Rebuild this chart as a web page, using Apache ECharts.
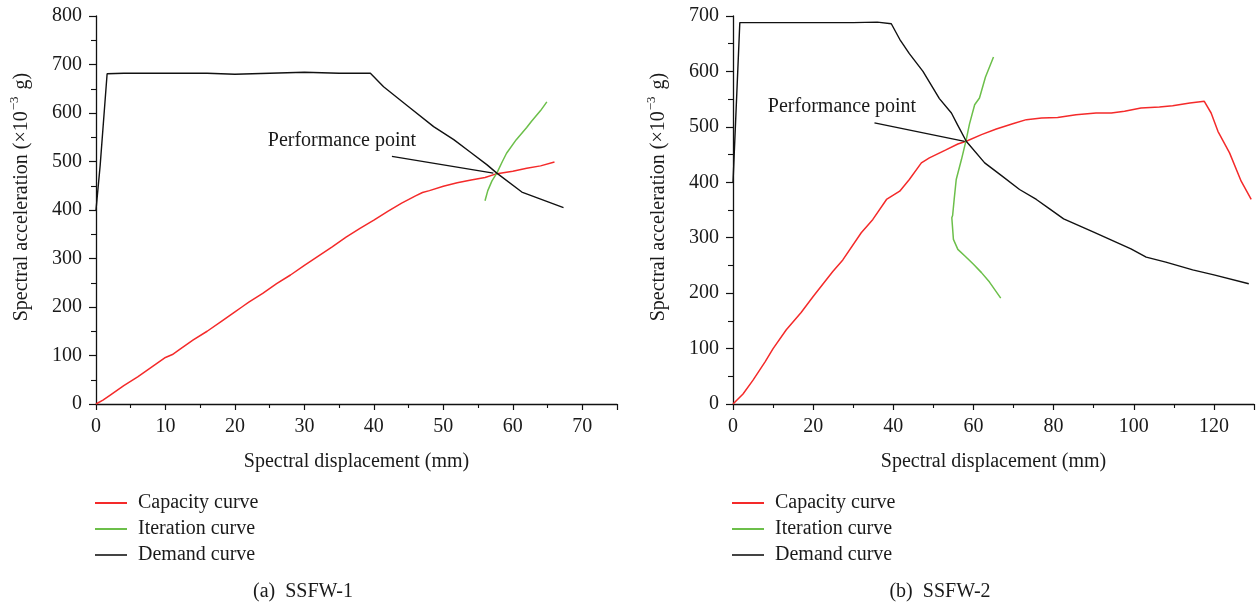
<!DOCTYPE html>
<html>
<head>
<meta charset="utf-8">
<script src="https://cdn.jsdelivr.net/npm/echarts@6/dist/echarts.min.js"></script>
<style>
html,body{margin:0;padding:0;background:#fff;}
#c{width:1257px;height:603px;}
</style>
</head>
<body>
<div id="c"></div>
<script>
// ---------- (a) SSFW-1 ----------
const capX1 = [0,1,2,4,6,8,10,11,12,14,16,18,20,21,22,24,26,28,30,32,34,36,38,40,42,44,46,47,48,50,52,54,56,57.5,60,62,64,66];
const capY1 = [0,8,18,38,56,76,96,102,112,132,150,170,190,200,210,228,248,266,286,305,324,344,362,379,397,414,429,436,440,449,456,462,467,474,480,486,491,499];
const itX1 = [56,56.4,57,57.7,58.5,59.1,60.5,62,62.7,64,64.9];
const itY1 = [419,440,460,476,500,517,545,570,583,605,623];
const demX1 = [0,0.6,1.6,4,10,16,20,25,30,35,39.5,41.4,45,48.6,51.5,54,56.3,57.7,61.3,67.3];
const demY1 = [400,492,681,682,682,682,680,682,684,682,682,654,613,572,545,518,493,476,437,405];
const ppText1 = [35.4,543];
const ppArrow1 = [[42.6,510.5],[57.2,476]];

// ---------- (b) SSFW-2 ----------
const capX2 = [0,2.5,5,8,10,13.3,17,20,24.9,27.4,32,34.9,38.3,41.6,44,47,49,53,56.1,58.2,62,65.7,70,73.2,77,81,85.6,90.6,94.4,97.7,101.8,106.4,109.7,114,117.6,119.3,121,123.9,126.8,129.3];
const capY2 = [0,18,43,76,100,134,165,194,239,260,309,333,369,384,405,435,444,458,469,474,486,496,506,513,516,517,522,525,525,528,534,536,538,543,546,525,492,453,402,369];
const itX2 = [65,63,61.5,60.3,59,58.2,57,55.7,55.2,54.8,54.6,55,56.1,58,60,62,64,66.8];
const itY2 = [626,590,552,540,505,477,441,405,370,340,336,297,279,266,252,237,220,191];
const demX2 = [0,1.7,10,20,30,36,39.5,41.6,44,47.4,51.5,54.5,56,58.2,62.8,67,71.5,75.7,79,82.5,90,99.3,103.1,108,114.7,120,128.7];
const demY2 = [399,688,688,688,688,689,686,658,632,600,551,525,504,474,435,412,387,369,352,334,310,280,265,256,242,233,217];
const ppText2 = [27.2,537];
const ppArrow2 = [[35.3,507],[57.8,474]];

const seriesNames = ['Capacity curve','Iteration curve','Demand curve'];
const captions = ['(a)  SSFW-1','(b)  SSFW-2'];
const xTitle = 'Spectral displacement (mm)';

const FONT = '"Liberation Serif", "DejaVu Serif", serif';
const TXT = '#1a1a1a';
const RED = '#f42a2a';
const GREEN = '#6cbf4a';
const BLACK = '#111111';

function pairs(xs, ys){ return xs.map((x,i)=>[x, ys[i]]); }

function makeAxes(idx, xmax, xint, ymax){
  const axisLine = {show:true, lineStyle:{color:'#111', width:1.3}};
  const x = {
    type:'value', gridIndex:idx, min:0, max:xmax, interval:xint,
    axisLine, axisTick:{show:true, inside:false, length:6, lineStyle:{color:'#111', width:1.2}},
    minorTick:{show:true, splitNumber:2, length:4, lineStyle:{color:'#111', width:1.1}},
    splitLine:{show:false},
    axisLabel:{fontFamily:FONT, fontSize:20, color:TXT, margin:13, showMaxLabel:false},
    name:xTitle, nameLocation:'middle', nameGap:48,
    nameTextStyle:{fontFamily:FONT, fontSize:20, color:TXT}
  };
  const y = {
    type:'value', gridIndex:idx, min:0, max:ymax, interval:100,
    axisLine, axisTick:{show:true, inside:false, length:7, lineStyle:{color:'#111', width:1.2}},
    minorTick:{show:true, splitNumber:2, length:5, lineStyle:{color:'#111', width:1.1}},
    splitLine:{show:false},
    axisLabel:{fontFamily:FONT, fontSize:20, color:TXT, margin:14},
    name:'{a|Spectral acceleration (×10}{s|−3}{a| g)}',
    nameLocation:'middle', nameGap:64, nameRotate:90,
    nameTextStyle:{
      fontFamily:FONT, fontSize:20, color:TXT, padding:[0,0,0,26],
      rich:{
        a:{fontFamily:FONT, fontSize:20, color:TXT, lineHeight:24, verticalAlign:'bottom'},
        s:{fontFamily:FONT, fontSize:13, color:TXT, lineHeight:24, verticalAlign:'top', padding:[0,2,0,1]}
      }
    }
  };
  return {x, y};
}

const a1 = makeAxes(0, 75, 10, 800);
const a2 = makeAxes(1, 130, 20, 700);

function makeSeries(idx, cx, cy, ix, iy, dx, dy, ppText, ppArrow){
  const base = {type:'line', xAxisIndex:idx, yAxisIndex:idx, symbol:'none', showSymbol:false, smooth:false, silent:true, clip:true};
  return [
    Object.assign({}, base, {name:seriesNames[0], data:pairs(cx,cy), lineStyle:{color:RED, width:1.5}, itemStyle:{color:RED}, z:3}),
    Object.assign({}, base, {name:seriesNames[1], data:pairs(ix,iy), lineStyle:{color:GREEN, width:1.5}, itemStyle:{color:GREEN}, z:4}),
    Object.assign({}, base, {name:seriesNames[2], data:pairs(dx,dy), lineStyle:{color:BLACK, width:1.4}, itemStyle:{color:BLACK}, z:5,
      markLine:{
        silent:true, symbol:['none','arrow'], symbolSize:[0,11],
        label:{show:false},
        lineStyle:{color:BLACK, width:1.3, type:'solid'},
        data:[[{coord:ppArrow[0]},{coord:ppArrow[1]}]]
      },
      markPoint:{
        silent:true,
        data:[{coord:ppText, symbol:'circle', symbolSize:1, itemStyle:{color:'rgba(0,0,0,0)'},
          label:{show:true, position:'inside', formatter:'Performance point', fontFamily:FONT, fontSize:20, color:TXT}}]
      }
    })
  ];
}

function legendFor(left){
  return {
    left:left, top:493, orient:'vertical', itemWidth:32, itemHeight:2, itemGap:6, padding:0,
    icon:'rect', selectedMode:false,
    textStyle:{fontFamily:FONT, fontSize:20, color:TXT, padding:[0,0,0,6]},
    data:[
      {name:seriesNames[0], itemStyle:{color:RED}},
      {name:seriesNames[1], itemStyle:{color:GREEN}},
      {name:seriesNames[2], itemStyle:{color:'#444'}}
    ]
  };
}

const chart = echarts.init(document.getElementById('c'), null, {renderer:'canvas'});
chart.setOption({
  animation:false,
  backgroundColor:'#ffffff',
  title:[
    {text:captions[0], left:298, top:577, textAlign:'center', textStyle:{fontFamily:FONT, fontSize:20, fontWeight:'normal', color:TXT}},
    {text:captions[1], left:935, top:577, textAlign:'center', textStyle:{fontFamily:FONT, fontSize:20, fontWeight:'normal', color:TXT}}
  ],
  grid:[
    {left:96, top:16, width:521, height:388},
    {left:733, top:16, width:521, height:388}
  ],
  xAxis:[a1.x, a2.x],
  yAxis:[a1.y, a2.y],
  legend:[legendFor(95), legendFor(732)],
  series:[].concat(
    makeSeries(0, capX1, capY1, itX1, itY1, demX1, demY1, ppText1, ppArrow1),
    makeSeries(1, capX2, capY2, itX2, itY2, demX2, demY2, ppText2, ppArrow2)
  )
});
</script>
</body>
</html>
